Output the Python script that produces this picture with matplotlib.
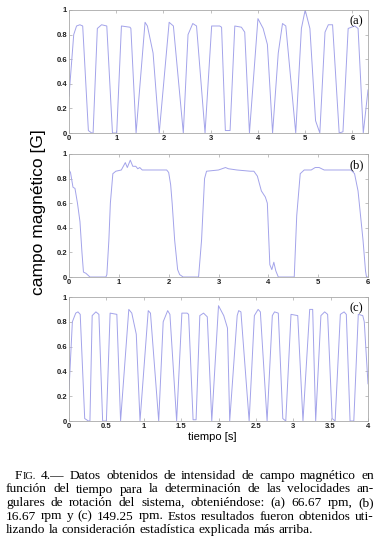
import matplotlib
matplotlib.use('Agg')
import matplotlib.pyplot as plt

# (a) 66.67 rpm
t_a = [0.0, 0.1, 0.16, 0.23, 0.29, 0.41, 0.48, 0.51, 0.6, 0.69, 0.8, 0.92, 1.01, 1.11, 1.29,
       1.31, 1.42, 1.61, 1.66, 1.78, 1.91, 2.12, 2.21, 2.42, 2.52, 2.62, 2.7, 2.88, 3.02, 3.19,
       3.23, 3.31, 3.41, 3.51, 3.65, 3.72, 3.82, 4.0, 4.11, 4.2, 4.31, 4.43, 4.52, 4.59, 4.8,
       4.92, 5.0, 5.1, 5.22, 5.31, 5.42, 5.49, 5.58, 5.72, 5.8, 5.91, 6.05, 6.12, 6.23, 6.33]
v_a = [0.3, 0.8, 0.87, 0.88, 0.87, 0.02, 0.0, 0.0, 0.85, 0.88, 0.87, 0.0, 0.0, 0.87, 0.86,
       0.85, 0.0, 0.9, 0.87, 0.65, 0.0, 0.9, 0.87, 0.0, 0.8, 0.89, 0.87, 0.0, 0.87, 0.87,
       0.86, 0.02, 0.02, 0.87, 0.86, 0.82, 0.0, 0.93, 0.85, 0.72, 0.0, 0.65, 0.89, 0.87, 0.0,
       0.85, 1.0, 0.85, 0.1, 0.0, 0.82, 0.88, 0.88, 0.0, 0.01, 0.85, 0.87, 0.85, 0.0, 0.35]

# (b) 16.67 rpm
t_b = [0.0, 0.03, 0.08, 0.12, 0.17, 0.22, 0.26, 0.29, 0.34, 0.42, 0.74, 0.76, 0.8, 0.83, 0.88,
       0.94, 1.05, 1.09, 1.13, 1.17, 1.23, 1.28, 1.34, 1.38, 1.42, 1.47, 1.96, 2.0, 2.04, 2.07,
       2.12, 2.18, 2.22, 2.29, 2.6, 2.66, 2.72, 2.76, 3.0, 3.14, 3.2, 3.37, 3.64, 3.71, 3.78,
       3.86, 3.94, 3.98, 4.03, 4.07, 4.11, 4.15, 4.2, 4.52, 4.57, 4.64, 4.72, 4.86, 4.94, 5.02,
       5.12, 5.66, 5.73, 5.8, 5.85, 5.9, 5.95, 5.97, 6.0]
v_b = [0.87, 0.85, 0.73, 0.72, 0.6, 0.45, 0.2, 0.04, 0.03, 0.0, 0.0, 0.02, 0.3, 0.6, 0.84,
       0.86, 0.87, 0.9, 0.93, 0.89, 0.95, 0.9, 0.9, 0.88, 0.89, 0.87, 0.87, 0.85, 0.75, 0.6,
       0.3, 0.06, 0.02, 0.0, 0.0, 0.3, 0.8, 0.86, 0.87, 0.89, 0.88, 0.87, 0.86, 0.86, 0.82,
       0.7, 0.65, 0.6, 0.1, 0.06, 0.12, 0.05, 0.0, 0.0, 0.5, 0.84, 0.87, 0.87, 0.89, 0.89,
       0.87, 0.87, 0.84, 0.7, 0.5, 0.3, 0.05, 0.0, 0.0]

# (c) 149.25 rpm
t_c = [0.0, 0.045, 0.09, 0.12, 0.15, 0.21, 0.26, 0.28, 0.31, 0.36, 0.4, 0.45, 0.5, 0.55, 0.64,
       0.69, 0.8, 0.84, 0.9, 0.95, 1.06, 1.09, 1.2, 1.26, 1.32, 1.35, 1.44, 1.51, 1.58, 1.6,
       1.66, 1.7, 1.75, 1.8, 1.85, 1.91, 2.0, 2.07, 2.12, 2.15, 2.25, 2.27, 2.3, 2.41, 2.48,
       2.53, 2.56, 2.65, 2.72, 2.75, 2.8, 2.86, 2.9, 2.97, 3.06, 3.13, 3.22, 3.26, 3.3, 3.37,
       3.42, 3.46, 3.52, 3.56, 3.63, 3.68, 3.71, 3.76, 3.81, 3.87, 3.93, 3.95, 4.0]
v_c = [0.25, 0.8, 0.87, 0.88, 0.86, 0.02, 0.0, 0.0, 0.85, 0.88, 0.86, 0.0, 0.0, 0.87, 0.86,
       0.0, 0.9, 0.87, 0.7, 0.0, 0.89, 0.87, 0.0, 0.8, 0.89, 0.86, 0.0, 0.87, 0.87, 0.86,
       0.01, 0.01, 0.85, 0.87, 0.84, 0.0, 0.93, 0.85, 0.75, 0.0, 0.85, 0.89, 0.88, 0.0, 0.85,
       0.9, 0.88, 0.0, 0.85, 0.88, 0.87, 0.02, 0.0, 0.86, 0.85, 0.0, 0.9, 0.9, 0.0, 0.85,
       0.88, 0.86, 0.02, 0.0, 0.86, 0.88, 0.86, 0.0, 0.0, 0.86, 0.85, 0.8, 0.3]

xticks_ab = [0, 1, 2, 3, 4, 5, 6]
xticks_c = [0, 0.5, 1, 1.5, 2, 2.5, 3, 3.5, 4]
xticklabels_c = ['0', '0.5', '1', '1.5', '2', '2.5', '3', '3.5', '4']
yticks = [0, 0.2, 0.4, 0.6, 0.8, 1]
yticklabels = ['0', '0.2', '0.4', '0.6', '0.8', '1']

caption = [
    'FIG. 4.— Datos obtenidos de intensidad de campo magnético en',
    'función del tiempo para la determinación de las velocidades an-',
    'gulares de rotación del sistema, obteniéndose: (a) 66.67 rpm, (b)',
    '16.67 rpm y (c) 149.25 rpm. Estos resultados fueron obtenidos uti-',
    'lizando la consideración estadística explicada más arriba.',
]

plt.rcParams['font.family'] = ['Liberation Sans', 'DejaVu Sans']
serif = ['Liberation Serif', 'DejaVu Serif']

line_color = '#a3a3ea'
axis_color = '#a8a8a8'
W, H = 385, 549

fig = plt.figure(figsize=(W / 100, H / 100), dpi=100)

panels = [
    (t_a, v_a, 6.33, xticks_ab, [str(x) for x in xticks_ab], '(a)', (10, 133)),
    (t_b, v_b, 6.0, xticks_ab, [str(x) for x in xticks_ab], '(b)', (154, 277)),
    (t_c, v_c, 4.0, xticks_c, xticklabels_c, '(c)', (297, 421)),
]

for t, v, xmax, xt, xtl, tag, (top, bot) in panels:
    ax = fig.add_axes([69 / W, 1 - bot / H, 299 / W, (bot - top) / H])
    ax.plot(t, v, color=line_color, lw=0.7)
    ax.set_xlim(0, xmax)
    ax.set_ylim(0, 1)
    ax.set_xticks(xt)
    ax.set_xticklabels(xtl, fontweight='bold')
    ax.set_yticks(yticks)
    ax.set_yticklabels(yticklabels, fontweight='bold')
    ax.tick_params(direction='in', length=2.5, width=0.5, top=True, right=True,
                   labelsize=5.5, pad=1.5, color=axis_color, labelcolor='#202020')
    for s in ax.spines.values():
        s.set_color(axis_color)
        s.set_linewidth(0.6)
    ax.text(0.985, 0.955, tag, transform=ax.transAxes, ha='right', va='top',
            fontsize=9, family=serif)

fig.text(39 / W, 1 - 212 / H, 'campo magnético [G]', rotation=90, fontsize=12.5,
         ha='center', va='center')
fig.text(212 / W, 1 - 437 / H, 'tiempo [s]', fontsize=8, ha='center', va='center')

# pie de figura justificado, palabra por palabra
fig.canvas.draw()
renderer = fig.canvas.get_renderer()


def width_of(s, size):
    tt = fig.text(0, 0, s, fontsize=size, family=serif)
    w = tt.get_window_extent(renderer).width
    tt.remove()
    return w


x_left, x_right = 6, 374
base0, step = 479, 13.5

cap_size = 9.6
while True:
    sp = width_of('a a', cap_size) - width_of('aa', cap_size)
    worst = max(sum(width_of(w, cap_size) for w in ln.split(' '))
                + sp * 0.7 * (len(ln.split(' ')) - 1) for ln in caption)
    if worst <= x_right - x_left or cap_size < 7:
        break
    cap_size -= 0.1
space = width_of('a a', cap_size) - width_of('aa', cap_size)

for i, line in enumerate(caption):
    words = line.split(' ')
    x0 = 15 if i == 0 else x_left
    widths = []
    for w in words:
        if w == 'FIG.':
            widths.append(width_of('F', cap_size) + width_of('IG.', cap_size * 0.78))
        else:
            widths.append(width_of(w, cap_size))
    if i < len(caption) - 1:
        gap = (x_right - x0 - sum(widths)) / (len(words) - 1)
    else:
        gap = space
    y = 1 - (base0 + i * step) / H
    x = x0
    for w, wd in zip(words, widths):
        if w == 'FIG.':
            fig.text(x / W, y, 'F', fontsize=cap_size, family=serif, va='baseline')
            fw = width_of('F', cap_size)
            fig.text((x + fw) / W, y, 'IG.', fontsize=cap_size * 0.78, family=serif,
                     va='baseline')
        else:
            fig.text(x / W, y, w, fontsize=cap_size, family=serif, va='baseline')
        x += wd + gap

fig.savefig('out.png', dpi=100)
